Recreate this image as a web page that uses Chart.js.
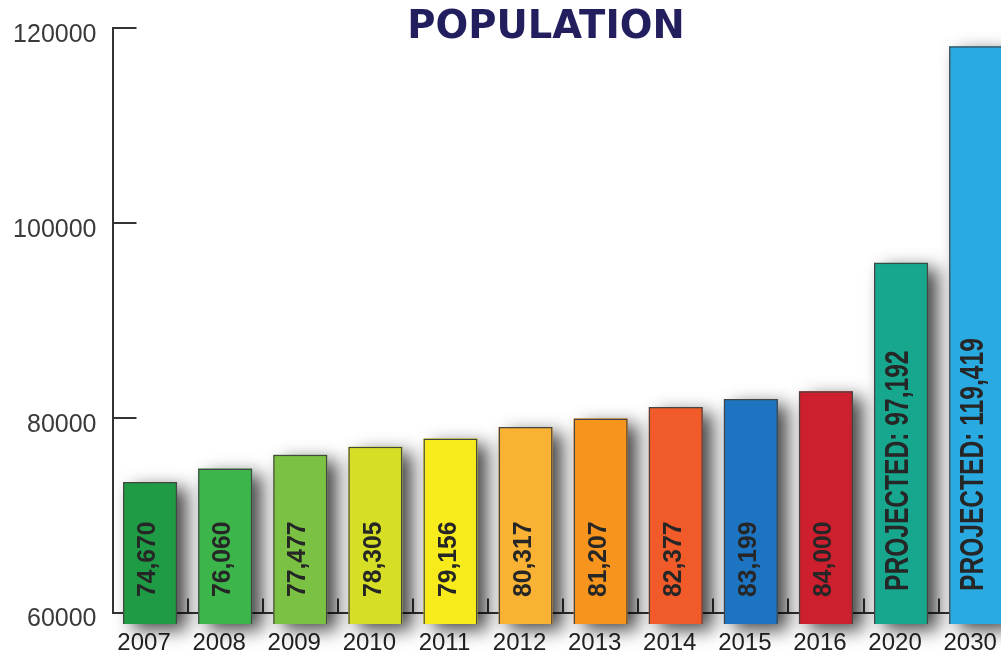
<!DOCTYPE html>
<html>
<head>
<meta charset="utf-8">
<title>Population</title>
<script src="https://cdn.jsdelivr.net/npm/chart.js"></script>
<style>
  html, body { margin: 0; padding: 0; overflow: hidden; background: #fff; }
  #wrap { position: relative; width: 1020px; height: 653px; }
</style>
</head>
<body>
<div id="wrap"><canvas id="populationChart"></canvas></div>
<script>
// --- datos ---
const years = ['2007', '2008', '2009', '2010', '2011', '2012', '2013', '2014', '2015', '2016', '2020', '2030'];
const population = [74670, 76060, 77477, 78305, 79156, 80317, 81207, 82377, 83199, 84000, 97192, 119419];
const projectedYears = ['2020', '2030'];
const yTicks = [60000, 80000, 100000, 120000];
const barColors = [
    '#1f9b45', '#3cb64b', '#7bc143', '#d6df25', '#f7eb1b', '#f9b233',
    '#f7941e', '#f15a29', '#1d74c0', '#cd1f2e', '#17a78f', '#29abe2'
];

// las barras arrancan un poco por debajo del eje (como en el original)
const BAR_DROP = 12.5;

// desplazamiento de las barras + sombra paralela dibujada a mano
// (el BarElement recorta con clip() y se come el shadow del contexto)
const barShadow = {
    id: 'barShadow',
    beforeDatasetsDraw(chart) {
        const ctx = chart.ctx;
        ctx.save();
        ctx.translate(0, BAR_DROP);
        chart.getDatasetMeta(0).data.forEach((bar, i) => {
            const p = bar.getProps(['x', 'y', 'base', 'width']);
            ctx.save();
            ctx.shadowColor = 'rgba(0, 0, 0, 0.72)';
            ctx.shadowBlur = 18;
            ctx.shadowOffsetX = 10;
            ctx.shadowOffsetY = 6;
            ctx.fillStyle = barColors[i];
            ctx.fillRect(p.x - p.width / 2, p.y, p.width, p.base - p.y);
            ctx.restore();
        });
    },
    afterDatasetsDraw(chart) {
        chart.ctx.restore();
    }
};

// texto vertical dentro de cada barra
const barText = {
    id: 'barText',
    afterDatasetsDraw(chart) {
        const ctx = chart.ctx;
        const meta = chart.getDatasetMeta(0);
        meta.data.forEach((bar, i) => {
            const projected = projectedYears.includes(years[i]);
            const txt = (projected ? 'PROJECTED: ' : '') + population[i].toLocaleString('en-US');
            ctx.save();
            ctx.translate(bar.x - 2, bar.base + BAR_DROP - (projected ? 33 : 27));
            ctx.rotate(-Math.PI / 2);
            if (projected) {
                ctx.scale(0.745, 1);
                ctx.font = 'bold 33px "Liberation Sans", Arial, sans-serif';
            } else {
                ctx.scale(0.95, 1);
                ctx.font = 'bold 26px "Liberation Sans", Arial, sans-serif';
            }
            ctx.fillStyle = '#262626';
            ctx.textAlign = 'left';
            ctx.textBaseline = 'middle';
            ctx.fillText(txt, 0, 0);
            ctx.restore();
        });
    }
};

// titulo
const bigTitle = {
    id: 'bigTitle',
    afterDraw(chart) {
        const ctx = chart.ctx;
        ctx.save();
        ctx.font = 'bold 38.5px "DejaVu Sans", sans-serif';
        ctx.fillStyle = '#231f5f';
        ctx.textAlign = 'center';
        ctx.textBaseline = 'alphabetic';
        ctx.fillText('POPULATION', 546, 38);
        ctx.restore();
    }
};

new Chart(document.getElementById('populationChart'), {
    type: 'bar',
    data: {
        labels: years,
        datasets: [{
            data: population,
            base: 60000,
            backgroundColor: barColors,
            borderColor: '#454545',
            borderWidth: 1.5,
            barPercentage: 0.72,
            categoryPercentage: 1,
            clip: false
        }]
    },
    options: {
        responsive: true,
        maintainAspectRatio: false,
        animation: false,
        layout: { padding: { top: 28, right: 6.3, left: 0, bottom: 0 } },
        plugins: {
            legend: { display: false },
            tooltip: { enabled: false }
        },
        scales: {
            x: {
                afterFit(scale) {
                    scale.height = 40.5;
                    scale.paddingLeft = 0;
                    scale.paddingRight = 0;
                },
                grid: {
                    offset: true,
                    drawOnChartArea: false,
                    tickLength: -14,
                    color: '#333',
                    lineWidth: 2
                },
                border: { color: '#333', width: 2 },
                ticks: {
                    color: '#222',
                    padding: 30.5,
                    labelOffset: -6,
                    maxRotation: 0,
                    autoSkip: false,
                    font: { family: '"Liberation Sans", Arial, sans-serif', size: 24 }
                }
            },
            y: {
                min: 60000,
                max: 120000,
                afterFit(scale) {
                    scale.width = 112.5;
                    scale.paddingTop = 0;
                    scale.paddingBottom = 0;
                },
                afterBuildTicks(scale) { scale.ticks = yTicks.map(v => ({ value: v })); },
                grid: {
                    drawOnChartArea: false,
                    tickLength: -24,
                    color: '#333',
                    lineWidth: 2
                },
                border: { color: '#333', width: 2 },
                ticks: {
                    color: '#3a3a3a',
                    padding: 40,
                    labelOffset: 7,
                    font: { family: '"Liberation Sans", Arial, sans-serif', size: 25 },
                    callback: v => String(v)
                }
            }
        }
    },
    plugins: [barShadow, barText, bigTitle]
});
</script>
</body>
</html>
